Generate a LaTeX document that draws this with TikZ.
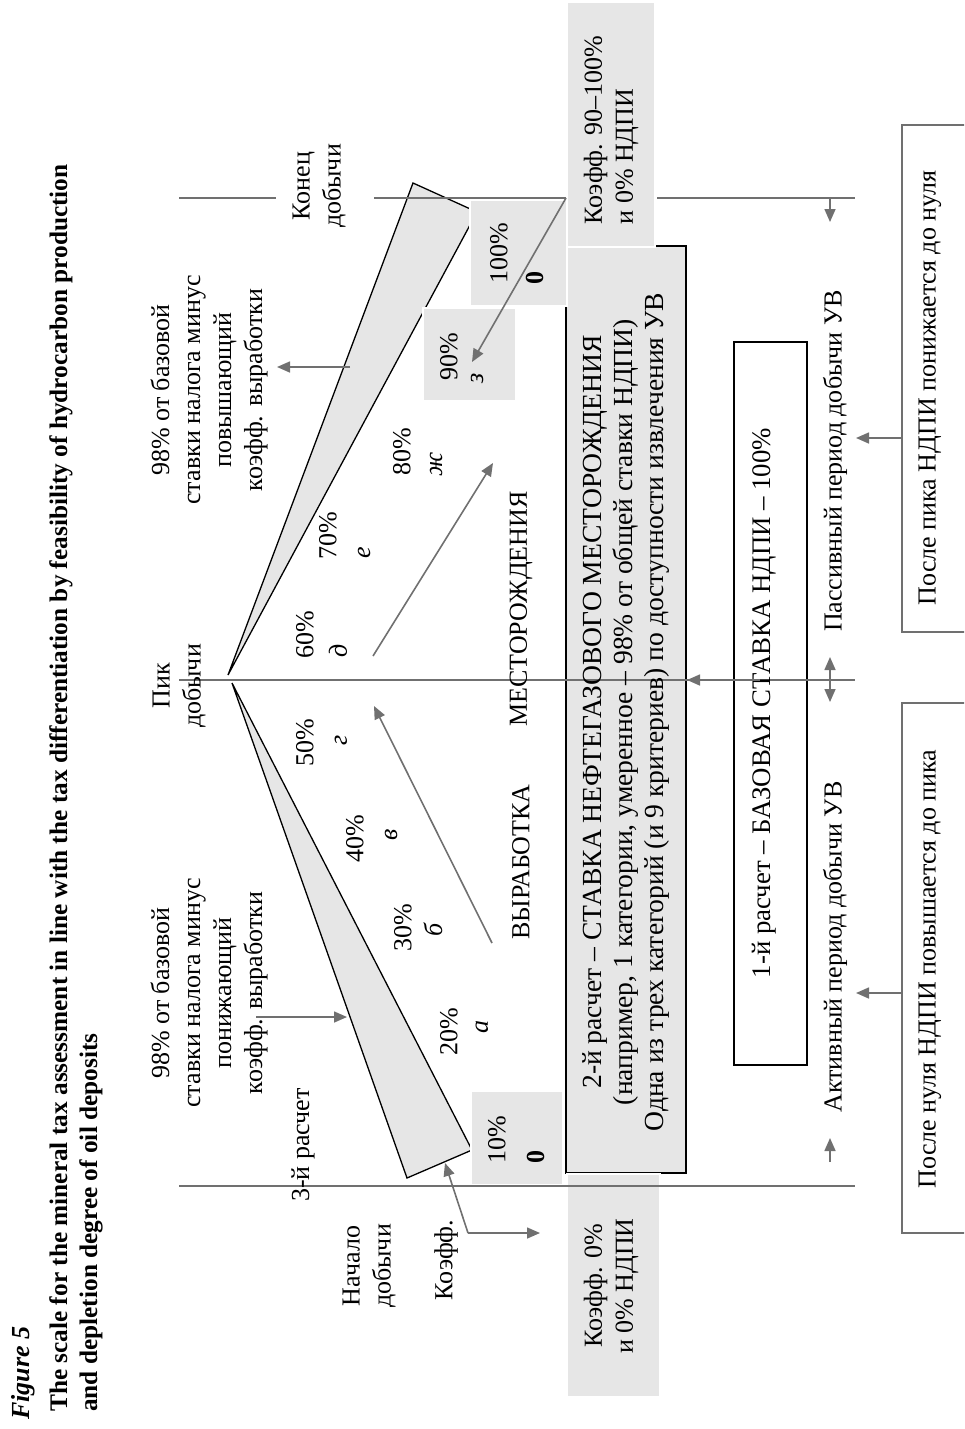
\documentclass[tikz,border=0pt]{standalone}
\usepackage{fontspec}
\setmainfont{Liberation Serif}
\usetikzlibrary{arrows.meta}
\definecolor{boxgray}{HTML}{E6E6E6}
\definecolor{linegray}{HTML}{707070}

\begin{document}
\begin{tikzpicture}[x=1pt,y=-1pt,
every node/.style={rotate=90, inner sep=0pt, font=\fontsize{26}{31}\selectfont},
graybox/.style={fill=boxgray, draw=white, line width=1.5pt},
wedge/.style={fill=boxgray, draw=black, line width=1.3pt},
mainbox/.style={fill=boxgray, draw=black, line width=1.8pt},
basebox/.style={fill=white, draw=black, line width=1.8pt},
sidebox/.style={fill=white, draw=linegray, line width=1.5pt},
scaleline/.style={draw=linegray, line width=1.6pt},
garrow/.style={draw=linegray, line width=1.6pt, -{Triangle[length=13pt,width=11pt]}},
dblarrow/.style={draw=linegray, line width=1.6pt, {Triangle[length=13pt,width=11pt]}-{Triangle[length=13pt,width=11pt]}},
title/.style={anchor=base west, font=\fontsize{25.3}{30}\selectfont\bfseries}
]
    \useasboundingbox (0,0) rectangle (964,1429);
    \clip (0,0) rectangle (964,1429);

    \node [title, font=\fontsize{26}{30}\selectfont\bfseries\itshape] (fig) at (29,1420) {Figure 5};
    \node [title] (title1) at (67,1412) {The scale for the mineral tax assessment in line with the tax differentiation by feasibility of hydrocarbon production};
    \node [title] (title2) at (97,1412) {and depletion degree of oil deposits};

    \draw [wedge] (228,675) -- (413,183) -- (477,212) -- cycle;
    \draw [wedge] (232,683) -- (407,1178) -- (472,1150) -- cycle;

    \draw [mainbox] (566,246) rectangle (686,1173);
    \draw [basebox] (734,342) rectangle (807,1065);
    \draw [graybox] (567,2) rectangle (655,247);
    \draw [graybox] (470,200) rectangle (567,306);
    \draw [graybox] (423,308) rectangle (516,401);
    \draw [graybox] (471,1091) rectangle (563,1185);
    \draw [graybox] (567,1174) rectangle (660,1397);
    \draw [sidebox] (902,125) rectangle (1000,632);
    \draw [sidebox] (902,703) rectangle (1000,1233);

    \draw [scaleline] (179,198) -- (276,198);
    \draw [scaleline] (374,198) -- (566,198);
    \draw [scaleline] (657,198) -- (855,198);
    \draw [scaleline] (179,680) -- (855,680);
    \draw [scaleline] (179,1186) -- (855,1186);

    \node [align=center] (konec) at (319,186) {Конец\\добычи};
    \node [align=center] (pik) at (179,686) {Пик\\добычи};
    \node [align=center] (nachalo) at (369,1266) {Начало\\добычи};
    \node (koef) at (446,1260) {Коэфф.};
    \node (calc3) at (303,1145) {3-й расчет};
    \node [align=center] (lowtext) at (209,993) {98\% от базовой\\ставки налога минус\\понижающий\\коэфф. выработки};
    \node [align=center] (uptext) at (209,390) {98\% от базовой\\ставки налога минус\\повышающий\\коэфф. выработки};

    \node (p10) at (497,1140) {10\%};
    \node (z10) at (536,1157) {\bfseries 0};
    \node (p20) at (449,1032) {20\%};
    \node (la) at (482,1027) {\itshape а};
    \node (p30) at (403,928) {30\%};
    \node (lb) at (433,930) {\itshape б};
    \node (p40) at (355,839) {40\%};
    \node (lv) at (391,835) {\itshape в};
    \node (p50) at (305,743) {50\%};
    \node (lg) at (341,740) {\itshape г};
    \node (p60) at (305,635) {60\%};
    \node (ld) at (338,651) {\itshape д};
    \node (p70) at (328,536) {70\%};
    \node (le) at (364,553) {\itshape е};
    \node (p80) at (402,452) {80\%};
    \node (lzh) at (436,464) {\itshape ж};
    \node (p90) at (449,357) {90\%};
    \node (lz) at (477,378) {\itshape з};
    \node (p100) at (499,253) {100\%};
    \node (z100) at (535,278) {\bfseries 0};

    \node (vyrab) at (521,862) {ВЫРАБОТКА};
    \node (mest) at (521,609) {МЕСТОРОЖДЕНИЯ};

    \node [align=left] (koefend) at (611,130) {Коэфф. 90–100\%\\и 0\% НДПИ};
    \node [align=center] (koefstart) at (611,1286) {Коэфф. 0\%\\и 0\% НДПИ};
    \node [align=center, font=\fontsize{27.6}{31}\selectfont] (calc2) at (626,712) {2-й расчет – СТАВКА НЕФТЕГАЗОВОГО МЕСТОРОЖДЕНИЯ\\(например, 1 категории, умеренное – 98\% от общей ставки НДПИ)\\Одна из трех категорий (и 9 критериев) по доступности извлечения УВ};
    \node [font=\fontsize{26.8}{31}\selectfont] (calc1) at (764,703) {1-й расчет – БАЗОВАЯ СТАВКА НДПИ – 100\%};
    \node (active) at (835,947) {Активный период добычи УВ};
    \node (passive) at (835,461) {Пассивный период добычи УВ};
    \node (afterzero) at (930,969) {После нуля НДПИ повышается до пика};
    \node (afterpeak) at (930,388) {После пика НДПИ понижается до нуля};

    \coordinate (kcorner) at (468,1233);
    \coordinate (kwedge) at (445,1163);
    \coordinate (kbox) at (540,1233);
    \coordinate (lowstart) at (256,1017);
    \coordinate (lowwedge) at (347,1017);
    \coordinate (upwedge) at (350,367);
    \coordinate (upend) at (277,367);
    \coordinate (endcorner) at (566,198);
    \draw [garrow] (kcorner) -- (kwedge);
    \draw [garrow] (kcorner) -- (kbox);
    \draw [garrow] (lowstart) -- (lowwedge);
    \draw [garrow] (upwedge) -- (upend);
    \draw [garrow] (endcorner) -- (472,362);
    \draw [garrow] (492,943) -- (374,706);
    \draw [garrow] (373,656) -- (493,463);
    \draw [garrow] (760,680) -- (687,680);
    \draw [garrow] (830,1162) -- (830,1138);
    \draw [dblarrow] (830,657) -- (830,702);
    \draw [garrow] (830,198) -- (830,222);
    \draw [garrow] (902,438) -- (856,438);
    \draw [garrow] (902,993) -- (856,993);
\end{tikzpicture}
\end{document}
